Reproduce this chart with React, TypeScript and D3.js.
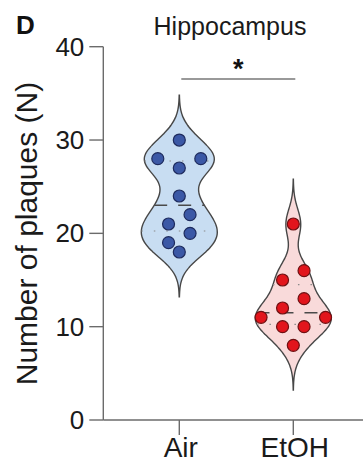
import React from 'react';
import * as d3 from 'd3';

// data
const groups = ['Air', 'EtOH'];
const airValues = [30, 28, 28, 27, 24, 22, 21, 20, 19, 18];
const etohValues = [21, 16, 15, 13, 12, 11, 11, 10, 10, 8];
const yTicks = [0, 10, 20, 30, 40];
const sigLabel = '*';

const W = 363;
const H = 464;
const FONT = '"Liberation Sans", Arial, Helvetica, sans-serif';

const bandwidth = 1.6;
const maxHalfWidth = 38;

const fills: Record<string, { violin: string; dot: string; dotStroke: string }> = {
  Air: { violin: '#c8ddf2', dot: '#3b58a6', dotStroke: '#1e2b5e' },
  EtOH: { violin: '#f9dada', dot: '#e2151c', dotStroke: '#6e1012' },
};

const y = d3.scaleLinear().domain([0, 40]).range([420, 46.7]);
const x = d3.scalePoint<string>().domain(groups).range([179.3, 293.3]);

const density = (values: number[], t: number) =>
  d3.sum(values, v => Math.exp(-0.5 * ((t - v) / bandwidth) ** 2));

const kde = (values: number[], n = 160) => {
  const lo = (d3.min(values) as number) - 3 * bandwidth;
  const hi = (d3.max(values) as number) + 3 * bandwidth;
  return d3.range(n + 1).map(i => {
    const t = lo + ((hi - lo) * i) / n;
    return { t, d: density(values, t) };
  });
};

// rows of close values spread symmetrically, like prism's scatter
const swarm = (values: number[], spacing = 21.5, rowTol = 10) => {
  const sorted = [...values].sort((a, b) => b - a);
  const rows: number[][] = [];
  sorted.forEach(v => {
    const last = rows[rows.length - 1];
    if (last && y(v) - y(last[0]) < rowTol) last.push(v);
    else rows.push([v]);
  });
  const out: { v: number; dx: number }[] = [];
  rows.forEach(row => {
    const n = row.length;
    const offs = d3
      .range(n)
      .map(i => (i - (n - 1) / 2) * spacing)
      .sort((a, b) => Math.abs(b) - Math.abs(a) || b - a);
    row.forEach((v, i) => out.push({ v, dx: offs[i] }));
  });
  return out;
};

const Violin = ({ name, values }: { name: string; values: number[] }) => {
  const cx = x(name) as number;
  const pts = kde(values);
  const maxD = d3.max(pts, p => p.d) as number;
  const hw = (t: number) => (maxHalfWidth * density(values, t)) / maxD;

  const area = d3
    .area<{ t: number; d: number }>()
    .y(p => y(p.t))
    .x0(p => cx - (maxHalfWidth * p.d) / maxD)
    .x1(p => cx + (maxHalfWidth * p.d) / maxD)
    .curve(d3.curveBasis);

  const sorted = [...values].sort(d3.ascending);
  const med = d3.quantile(sorted, 0.5) as number;
  const q1 = d3.quantile(sorted, 0.25) as number;
  const q3 = d3.quantile(sorted, 0.75) as number;
  const c = fills[name];

  return (
    <g>
      <path d={area(pts) || ''} fill={c.violin} stroke="#474747" strokeWidth={1.4} />
      {[q1, q3].map((q, i) => (
        <line
          key={i}
          x1={cx - hw(q)}
          x2={cx + hw(q)}
          y1={y(q)}
          y2={y(q)}
          stroke="#8a8a8a"
          strokeWidth={1.2}
          strokeDasharray="1.5,11"
        />
      ))}
      <line
        x1={cx - hw(med)}
        x2={cx + hw(med)}
        y1={y(med)}
        y2={y(med)}
        stroke="#4a4a4a"
        strokeWidth={1.5}
        strokeDasharray="13,11"
      />
      {swarm(values).map((p, i) => (
        <circle
          key={i}
          cx={cx + p.dx}
          cy={y(p.v)}
          r={6}
          fill={c.dot}
          stroke={c.dotStroke}
          strokeWidth={1.2}
        />
      ))}
    </g>
  );
};

export default function App() {
  const axisColor = '#6b6b6b';
  const x0 = 103.3;
  const sigY = 79;
  return (
    <svg
      width={W}
      height={H}
      style={{ position: 'absolute', left: 0, top: 0, background: '#fff' }}
      fontFamily={FONT}
    >
      <rect width={W} height={H} fill="#fff" />
      <text x={16} y={34} fontSize={26} fontWeight="bold" fill="#111">
        D
      </text>
      <text x={230} y={35} fontSize={25} textAnchor="middle" fill="#1a1a1a">
        Hippocampus
      </text>

      {/* y axis */}
      <line x1={x0} x2={x0} y1={y(40)} y2={y(0)} stroke={axisColor} strokeWidth={1.4} />
      {yTicks.map(t => (
        <g key={t}>
          <line x1={x0 - 14} x2={x0} y1={y(t)} y2={y(t)} stroke={axisColor} strokeWidth={1.4} />
          <text
            x={x0 - 19}
            y={y(t)}
            dy="0.35em"
            fontSize={26}
            textAnchor="end"
            fill="#1a1a1a"
          >
            {t}
          </text>
        </g>
      ))}
      <text
        transform={`translate(37, ${233.5}) rotate(-90)`}
        fontSize={30}
        textAnchor="middle"
        fill="#1a1a1a"
      >
        Number of plaques (N)
      </text>

      {/* x axis */}
      <line x1={x0} x2={W} y1={y(0)} y2={y(0)} stroke={axisColor} strokeWidth={1.4} />
      {groups.map(g => (
        <g key={g}>
          <line
            x1={x(g)}
            x2={x(g)}
            y1={y(0)}
            y2={y(0) + 15}
            stroke={axisColor}
            strokeWidth={1.4}
          />
          <text
            x={(x(g) as number) + 1.5}
            y={457}
            fontSize={28}
            textAnchor="middle"
            fill="#1a1a1a"
          >
            {g}
          </text>
        </g>
      ))}

      <Violin name="Air" values={airValues} />
      <Violin name="EtOH" values={etohValues} />

      {/* significance */}
      <line
        x1={(x('Air') as number) + 2}
        x2={(x('EtOH') as number) + 2}
        y1={sigY}
        y2={sigY}
        stroke="#777"
        strokeWidth={1.6}
      />
      <text
        x={((x('Air') as number) + (x('EtOH') as number)) / 2 + 2}
        y={sigY - 1}
        fontSize={27}
        fontWeight="bold"
        textAnchor="middle"
        fill="#111"
      >
        {sigLabel}
      </text>
    </svg>
  );
}
